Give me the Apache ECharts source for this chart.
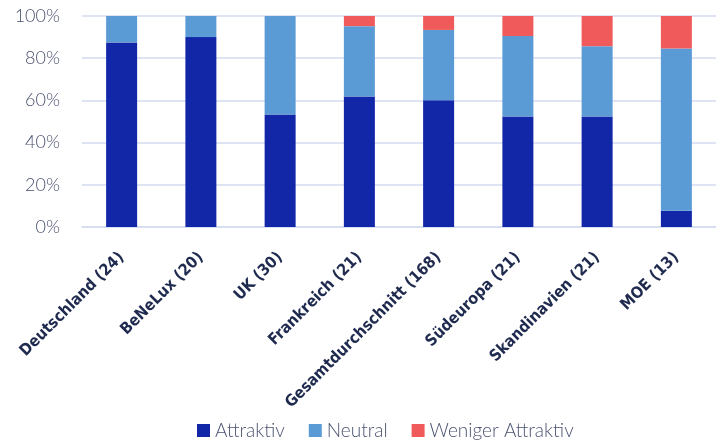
<!DOCTYPE html>
<html>
<head>
<meta charset="utf-8">
<script src="https://cdn.jsdelivr.net/npm/echarts@6/dist/echarts.min.js"></script>
<style>
  html, body { margin: 0; padding: 0; background: #fff; }
  #chart { width: 716px; height: 444px; }
</style>
</head>
<body>
<div id="chart"></div>
<script>
// categories (sample size in brackets)
const regions = ['Deutschland (24)', 'BeNeLux (20)', 'UK (30)', 'Frankreich (21)',
  'Gesamtdurchschnitt (168)', 'Südeuropa (21)', 'Skandinavien (21)', 'MOE (13)'];

// shares in percent
const attraktiv = [87.5, 90.0, 53.3, 61.9, 60.1, 52.4, 52.4, 7.7];
const neutral = [12.5, 10.0, 46.7, 33.3, 33.3, 38.1, 33.3, 76.9];
const wenigerAttraktiv = [0, 0, 0, 4.8, 6.6, 9.5, 14.3, 15.4];

const yTicks = [0, 20, 40, 60, 80, 100];

const colors = ['#1226A8', '#5B9BD5', '#F05A5A'];

const chart = echarts.init(document.getElementById('chart'));

function barSeries(name, data, color) {
  return {
    name: name,
    type: 'bar',
    stack: 'total',
    barWidth: 31,
    itemStyle: { color: color },
    data: data
  };
}

const option = {
  animation: false,
  color: colors,
  grid: { left: 82, right: 0, top: 16, bottom: 217 },
  legend: {
    left: 192,
    top: 416,
    itemWidth: 13,
    itemHeight: 13,
    itemGap: 24,
    icon: 'rect',
    textStyle: { fontFamily: 'Lato', fontWeight: 300, fontSize: 19, color: '#4A5270' },
    data: ['Attraktiv', 'Neutral', 'Weniger Attraktiv']
  },
  xAxis: {
    type: 'category',
    data: regions,
    axisTick: { show: false },
    axisLine: { lineStyle: { color: '#D5DBF0', width: 1.5 } },
    axisLabel: {
      rotate: 45,
      interval: 0,
      margin: 28,
      fontFamily: 'DejaVu Sans Condensed',
      fontWeight: 'bold',
      fontSize: 16,
      color: '#1F2A4F'
    }
  },
  yAxis: {
    type: 'value',
    min: yTicks[0],
    max: yTicks[yTicks.length - 1],
    interval: 20,
    axisLine: { show: false },
    axisTick: { show: false },
    splitLine: { lineStyle: { color: '#D5DBF0', width: 1.5 } },
    axisLabel: {
      margin: 22,
      fontFamily: 'Lato',
      fontWeight: 300,
      fontSize: 18,
      color: '#4A5270',
      formatter: '{value}%'
    }
  },
  series: [
    barSeries('Attraktiv', attraktiv, colors[0]),
    barSeries('Neutral', neutral, colors[1]),
    barSeries('Weniger Attraktiv', wenigerAttraktiv, colors[2])
  ]
};

chart.setOption(option);
</script>
</body>
</html>
